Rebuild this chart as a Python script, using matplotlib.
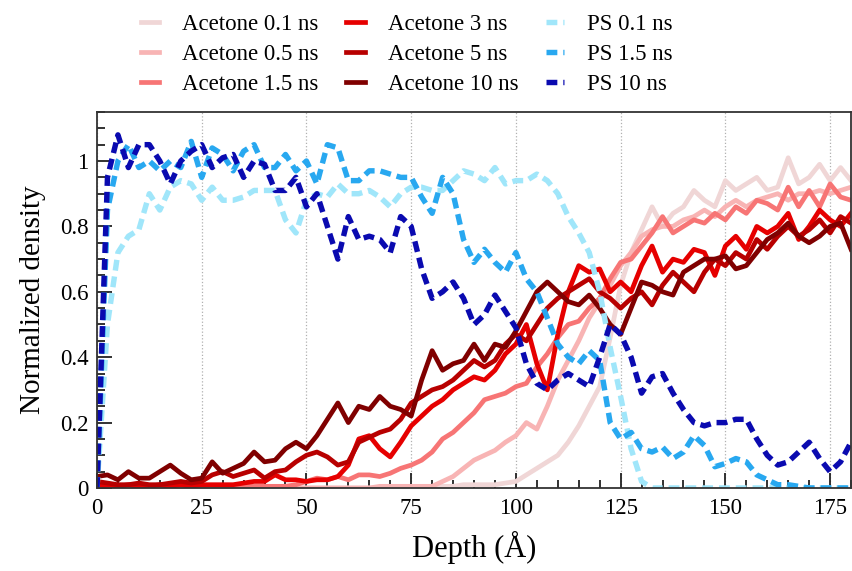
import matplotlib

matplotlib.use("Agg")
import matplotlib.pyplot as plt
import numpy as np
from matplotlib.ticker import MultipleLocator

plt.rcParams["font.family"] = ["Liberation Serif", "DejaVu Serif"]

# Depth grid (Å), 2.5 Å steps from 0 to 180
depth = np.arange(0, 180.1, 2.5)

acetone_01 = [
    0.0, 0.0, 0.0, 0.0, 0.0, 0.0, 0.0, 0.0, 0.0, 0.0,
    0.0, 0.0, 0.0, 0.0, 0.0, 0.0, 0.0, 0.0, 0.0, 0.0,
    0.0, 0.0, 0.0, 0.0, 0.0, 0.0, 0.0, 0.0, 0.0, 0.0,
    0.0, 0.0, 0.0, 0.005, 0.005, 0.01, 0.01, 0.01, 0.01, 0.015,
    0.02, 0.04, 0.06, 0.08, 0.10, 0.14, 0.19, 0.25, 0.31, 0.46,
    0.62, 0.72, 0.79, 0.86, 0.80, 0.84, 0.86, 0.91, 0.88, 0.86,
    0.94, 0.91, 0.93, 0.95, 0.91, 0.92, 1.01, 0.93, 0.95, 0.99,
    0.94, 0.98, 0.94,
]
acetone_05 = [
    0.0, 0.0, 0.0, 0.0, 0.0, 0.0, 0.0, 0.0, 0.0, 0.0,
    0.0, 0.0, 0.0, 0.0, 0.0, 0.0, 0.0, 0.0, 0.0, 0.0,
    0.0, 0.0, 0.0, 0.0, 0.0, 0.0, 0.0, 0.005, 0.005, 0.005,
    0.005, 0.005, 0.005, 0.02, 0.035, 0.06, 0.085, 0.10, 0.115, 0.14,
    0.16, 0.20, 0.18, 0.25, 0.33, 0.39, 0.45, 0.52, 0.57, 0.62,
    0.68, 0.72, 0.77, 0.79, 0.80, 0.80, 0.82, 0.83, 0.85, 0.83,
    0.86, 0.88, 0.86, 0.88, 0.89, 0.90, 0.88, 0.90, 0.90, 0.91,
    0.90, 0.91, 0.92,
]
acetone_15 = [
    0.0, 0.0, 0.0, 0.0, 0.0, 0.0, 0.0, 0.0, 0.0, 0.0,
    0.0, 0.0, 0.0, 0.0, 0.005, 0.005, 0.005, 0.005, 0.005, 0.01,
    0.02, 0.03, 0.025, 0.035, 0.025, 0.04, 0.04, 0.035, 0.045, 0.06,
    0.07, 0.085, 0.11, 0.15, 0.17, 0.20, 0.23, 0.27, 0.28, 0.29,
    0.31, 0.32, 0.37, 0.41, 0.46, 0.50, 0.51, 0.55, 0.58, 0.64,
    0.69, 0.70, 0.74, 0.78, 0.83, 0.78, 0.80, 0.82, 0.81, 0.84,
    0.82, 0.86, 0.84, 0.88, 0.87, 0.85, 0.92, 0.86, 0.91, 0.86,
    0.93, 0.89, 0.88,
]
acetone_3 = [
    0.01, 0.005, 0.005, 0.01, 0.005, 0.005, 0.01, 0.005, 0.01, 0.005,
    0.01, 0.01, 0.01, 0.01, 0.015, 0.02, 0.02, 0.04, 0.025, 0.025,
    0.02, 0.025, 0.025, 0.035, 0.07, 0.15, 0.16, 0.12, 0.095, 0.14,
    0.19, 0.22, 0.25, 0.27, 0.30, 0.32, 0.34, 0.33, 0.36, 0.41,
    0.44, 0.50, 0.38, 0.30, 0.47, 0.60, 0.68, 0.66, 0.67, 0.60,
    0.63, 0.60, 0.68, 0.74, 0.66, 0.70, 0.69, 0.73, 0.72, 0.65,
    0.74, 0.77, 0.73, 0.80, 0.78, 0.80, 0.84, 0.76, 0.80, 0.85,
    0.82, 0.80, 0.84,
]
acetone_5 = [
    0.02, 0.015, 0.01, 0.01, 0.015, 0.01, 0.01, 0.015, 0.02, 0.015,
    0.02, 0.04, 0.05, 0.035, 0.045, 0.055, 0.03, 0.05, 0.055, 0.08,
    0.10, 0.11, 0.095, 0.07, 0.08, 0.14, 0.155, 0.17, 0.18, 0.21,
    0.26, 0.28, 0.30, 0.31, 0.33, 0.36, 0.39, 0.37, 0.39, 0.44,
    0.47, 0.45, 0.50, 0.55, 0.58, 0.60, 0.62, 0.64, 0.60, 0.58,
    0.55, 0.58, 0.60, 0.56, 0.62, 0.66, 0.63, 0.60, 0.66, 0.70,
    0.68, 0.72, 0.70, 0.76, 0.73, 0.77, 0.80, 0.77, 0.79, 0.82,
    0.78, 0.83, 0.81,
]
acetone_10 = [
    0.035, 0.04, 0.025, 0.05, 0.03, 0.03, 0.05, 0.07, 0.045, 0.025,
    0.03, 0.08, 0.045, 0.06, 0.075, 0.11, 0.08, 0.085, 0.12, 0.14,
    0.12, 0.16, 0.21, 0.26, 0.20, 0.25, 0.24, 0.28, 0.25, 0.24,
    0.22, 0.33, 0.42, 0.36, 0.38, 0.39, 0.44, 0.39, 0.44, 0.43,
    0.48, 0.54, 0.60, 0.63, 0.60, 0.57, 0.56, 0.59, 0.55, 0.50,
    0.47, 0.55, 0.63, 0.62, 0.60, 0.59, 0.66, 0.68, 0.70, 0.70,
    0.71, 0.67, 0.68, 0.72, 0.76, 0.78, 0.81, 0.77, 0.75, 0.77,
    0.80, 0.81, 0.73,
]
ps_01 = [
    0.0, 0.50, 0.72, 0.77, 0.79, 0.90, 0.85, 0.92, 0.94, 0.93,
    0.88, 0.92, 0.88, 0.88, 0.89, 0.91, 0.91, 0.91, 0.82, 0.78,
    0.88, 0.90, 0.89, 0.93, 0.90, 0.90, 0.91, 0.89, 0.86, 0.90,
    0.92, 0.92, 0.91, 0.91, 0.94, 0.97, 0.96, 0.94, 0.98, 0.93,
    0.94, 0.94, 0.96, 0.94, 0.90, 0.83, 0.78, 0.72, 0.60, 0.43,
    0.28, 0.12, 0.02, 0.0, 0.0, 0.0, 0.0, 0.0, 0.0, 0.0,
    0.0, 0.0, 0.0, 0.0, 0.0, 0.0, 0.0, 0.0, 0.0, 0.0,
    0.0, 0.0, 0.0,
]
ps_15 = [
    0.0, 0.85, 1.00, 1.05, 0.98, 1.00, 0.97, 1.00, 0.98, 1.06,
    0.95, 1.04, 1.02, 0.97, 1.03, 1.05, 0.98, 0.98, 1.02, 0.97,
    1.00, 0.93, 1.05, 1.04, 0.94, 0.94, 0.97, 0.97, 0.96, 0.95,
    0.95, 0.89, 0.84, 0.95, 0.90, 0.76, 0.69, 0.73, 0.69, 0.66,
    0.72, 0.64, 0.60, 0.52, 0.44, 0.40, 0.38, 0.42, 0.39, 0.20,
    0.15, 0.17, 0.12, 0.11, 0.125, 0.09, 0.11, 0.16, 0.13, 0.065,
    0.075, 0.09, 0.08, 0.04, 0.025, 0.01, 0.01, 0.005, 0.0, 0.0,
    0.0, 0.0, 0.0,
]
ps_10 = [
    0.0, 0.95, 1.08, 0.98, 1.05, 1.05, 1.00, 0.93, 1.00, 1.03,
    1.05, 0.98, 1.01, 1.02, 0.95, 1.00, 0.99, 0.91, 0.91, 0.95,
    0.86, 0.90, 0.80, 0.70, 0.83, 0.76, 0.77, 0.76, 0.72, 0.83,
    0.80, 0.67, 0.58, 0.60, 0.63, 0.58, 0.50, 0.53, 0.59, 0.54,
    0.49, 0.38, 0.32, 0.30, 0.33, 0.35, 0.33, 0.31, 0.40, 0.50,
    0.47, 0.40, 0.29, 0.34, 0.35, 0.29, 0.24, 0.20, 0.19, 0.20,
    0.20, 0.21, 0.21, 0.15, 0.10, 0.07, 0.08, 0.11, 0.14, 0.09,
    0.05, 0.08, 0.14,
]

acetone_series = [
    ("Acetone 0.1 ns", acetone_01, "#f0d6d6"),
    ("Acetone 0.5 ns", acetone_05, "#f8b4b4"),
    ("Acetone 1.5 ns", acetone_15, "#f77575"),
    ("Acetone 3 ns", acetone_3, "#e60000"),
    ("Acetone 5 ns", acetone_5, "#b80000"),
    ("Acetone 10 ns", acetone_10, "#800000"),
]
ps_series = [
    ("PS 0.1 ns", ps_01, "#a0e6fa"),
    ("PS 1.5 ns", ps_15, "#28a8f0"),
    ("PS 10 ns", ps_10, "#0a0ab0"),
]

fig = plt.figure(figsize=(8.53, 5.71), dpi=100)
ax = fig.add_axes([0.1137, 0.1454, 0.884, 0.6585])

for label, vals, color in acetone_series:
    ax.plot(depth, vals, color=color, lw=3.4, label=label)
for label, vals, color in ps_series:
    ax.plot(depth, vals, color=color, lw=3.9, linestyle=(0, (2.0, 1.1)), label=label)

ax.set_xlim(0, 180)
ax.set_ylim(0, 1.15)
ax.xaxis.set_major_locator(MultipleLocator(25))
ax.xaxis.set_minor_locator(MultipleLocator(5))
ax.yaxis.set_minor_locator(MultipleLocator(0.05))
ax.set_yticks([0, 0.2, 0.4, 0.6, 0.8, 1.0])
ax.set_yticklabels(["0", "0.2", "0.4", "0.6", "0.8", "1"])
ax.tick_params(which="both", direction="in", top=False, right=False,
               labelsize=16.5, width=1.3, color="#222222")
ax.tick_params(which="major", length=11)
ax.tick_params(which="minor", length=6)
ax.tick_params(axis="x", which="major", pad=7)
ax.tick_params(axis="y", which="major", pad=6)
ax.grid(axis="x", which="major", linestyle=":", color="#b0b0b0", lw=0.9)
for s in ax.spines.values():
    s.set_linewidth(1.3)
    s.set_color("#333333")

ax.set_xlabel("Depth (Å)", fontsize=22, labelpad=9)
ax.set_ylabel("Normalized density", fontsize=21, labelpad=10)

handles, labels = ax.get_legend_handles_labels()
fig.legend(handles, labels, loc="upper center", bbox_to_anchor=(0.477, 1.012),
           ncol=3, frameon=False, fontsize=16.5, handlelength=0.8,
           handletextpad=1.0, columnspacing=1.2, labelspacing=0.4)

fig.savefig("out.png", dpi=100)
